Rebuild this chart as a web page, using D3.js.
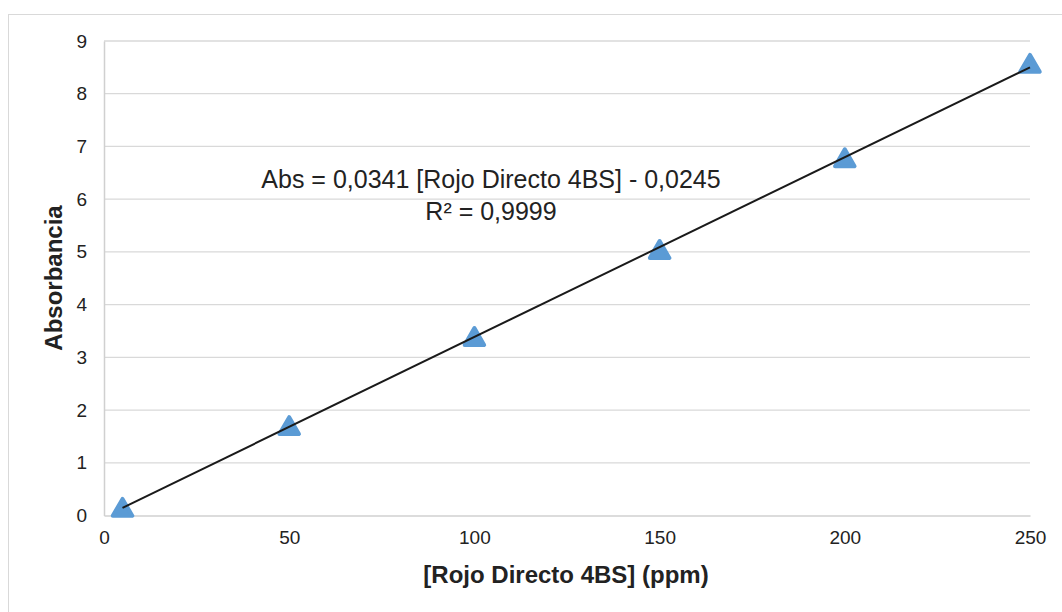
<!DOCTYPE html>
<html><head><meta charset="utf-8">
<script src="https://cdn.jsdelivr.net/npm/d3@7"></script>
<style>body{margin:0;background:#fff;} text{font-family:"Liberation Sans",Arial,sans-serif;}</style>
</head><body>
<svg id="c" width="1062" height="612"></svg>
<script>
const concentrations = [5, 50, 100, 150, 200, 250];
const absorbance = [0.13, 1.68, 3.37, 5.02, 6.76, 8.55];
const xTicks = [0, 50, 100, 150, 200, 250];
const yTicks = [0, 1, 2, 3, 4, 5, 6, 7, 8, 9];
const slope = 0.0341, intercept = -0.0245;
const eqLabel = "Abs = 0,0341 [Rojo Directo 4BS] - 0,0245";
const r2Label = "R² = 0,9999";
const xTitle = "[Rojo Directo 4BS] (ppm)";
const yTitle = "Absorbancia";

const svg = d3.select("#c");
svg.append("rect").attr("x",8.5).attr("y",14.5).attr("width",1070).attr("height",620)
  .attr("fill","#fff").attr("stroke","#d9d9d9");

const x = d3.scaleLinear().domain([0,250]).range([104,1030]);
const y = d3.scaleLinear().domain([0,9]).range([515.5,41]);

// gridlines
svg.append("g").selectAll("line").data(yTicks.filter(d=>d>0)).join("line")
  .attr("x1",x(0)).attr("x2",x(250)).attr("y1",d=>y(d)).attr("y2",d=>y(d))
  .attr("stroke","#d9d9d9").attr("stroke-width",1.3);

// axes
const xa = svg.append("g").attr("transform",`translate(0,${y(0)})`)
  .call(d3.axisBottom(x).tickValues(xTicks).tickSize(0).tickPadding(15).tickFormat(d3.format("d")));
xa.select(".domain").attr("stroke","#d0d0d0").attr("stroke-width",1.5);
xa.selectAll("text").attr("font-size",19).attr("fill","#222").attr("font-family","Liberation Sans, Arial, sans-serif");

const ya = svg.append("g").attr("transform",`translate(${x(0)},0)`)
  .call(d3.axisLeft(y).tickValues(yTicks).tickSize(0).tickPadding(17).tickFormat(d3.format("d")));
ya.select(".domain").attr("stroke","#d0d0d0").attr("stroke-width",1.5);
ya.selectAll("text").attr("font-size",19).attr("fill","#222").attr("font-family","Liberation Sans, Arial, sans-serif");

// markers
const tri = d3.symbol().type(d3.symbolTriangle).size(165);
svg.append("g").selectAll("path").data(concentrations).join("path")
  .attr("d",tri)
  .attr("transform",(d,i)=>`translate(${x(d)},${y(absorbance[i])+1.5})`)
  .attr("fill","#5b9bd5").attr("stroke","#5b9bd5").attr("stroke-width",4).attr("stroke-linejoin","round");

// trendline
const x0 = concentrations[0], x1 = concentrations[concentrations.length-1];
svg.append("line")
  .attr("x1",x(x0)).attr("y1",y(slope*x0+intercept))
  .attr("x2",x(x1)).attr("y2",y(slope*x1+intercept))
  .attr("stroke","#1a1a1a").attr("stroke-width",2);

// equation
svg.append("text").attr("x",491).attr("y",188).attr("text-anchor","middle")
  .attr("font-size",25).attr("fill","#222").text(eqLabel);
svg.append("text").attr("x",491).attr("y",220).attr("text-anchor","middle")
  .attr("font-size",25).attr("fill","#222").text(r2Label);

// axis titles
svg.append("text").attr("x",566).attr("y",583).attr("text-anchor","middle")
  .attr("font-size",24).attr("font-weight","bold").attr("fill","#222").text(xTitle);
svg.append("text").attr("transform","translate(62,278) rotate(-90)").attr("text-anchor","middle")
  .attr("font-size",24).attr("font-weight","bold").attr("fill","#222").text(yTitle);
</script>
</body></html>
